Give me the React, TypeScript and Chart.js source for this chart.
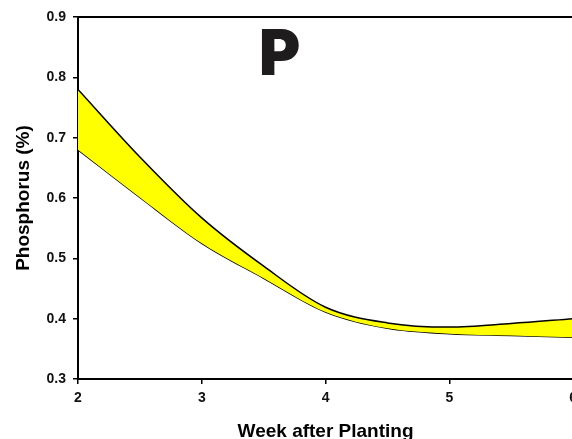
import React, { useEffect, useRef } from "react";
import { Chart, registerables } from "chart.js";

Chart.register(...registerables);

// ---- data ----
const weeks = [2, 2.5, 3, 3.5, 4, 4.5, 5, 5.5, 6];
const upperValues = [0.78, 0.668, 0.567, 0.487, 0.419, 0.393, 0.386, 0.392, 0.4];
const lowerValues = [0.68, 0.601, 0.525, 0.467, 0.411, 0.384, 0.375, 0.372, 0.369];
const xTickValues = [2, 3, 4, 5, 6];
const yTickValues = [0.3, 0.4, 0.5, 0.6, 0.7, 0.8, 0.9];
const xTitle = "Week after Planting";
const yTitle = "Phosphorus (%)";
const panelLabel = "P";
const panelLabelAt = { x: 3.63, y: 0.804 };

const FONT = '"Liberation Sans", Arial, sans-serif';

const panelLabelPlugin = {
  id: "panelLabel",
  afterDatasetsDraw(chart: any) {
    const { ctx, scales } = chart;
    const px = scales.x.getPixelForValue(panelLabelAt.x);
    const py = scales.y.getPixelForValue(panelLabelAt.y);
    ctx.save();
    ctx.font = '900 63px Inter, "Liberation Sans", Arial, sans-serif';
    ctx.fillStyle = "#1e1c1d";
    ctx.textAlign = "center";
    ctx.textBaseline = "alphabetic";
    ctx.fillText(panelLabel, px, py);
    ctx.restore();
  },
};

export default function App() {
  const canvasRef = useRef<HTMLCanvasElement | null>(null);

  useEffect(() => {
    if (!canvasRef.current) return;
    const chart = new Chart(canvasRef.current, {
      type: "line",
      data: {
        datasets: [
          {
            label: "upper",
            data: weeks.map((w, i) => ({ x: w, y: upperValues[i] })),
            borderColor: "#000",
            borderWidth: 1.5,
            backgroundColor: "#ffff00",
            fill: "+1",
            pointRadius: 0,
            cubicInterpolationMode: "monotone",
          },
          {
            label: "lower",
            data: weeks.map((w, i) => ({ x: w, y: lowerValues[i] })),
            borderColor: "#000",
            borderWidth: 1.5,
            backgroundColor: "#ffff00",
            fill: false,
            pointRadius: 0,
            cubicInterpolationMode: "monotone",
          },
        ],
      },
      options: {
        animation: false,
        responsive: false,
        layout: { padding: { top: 17, left: 0, right: 0, bottom: 0 } },
        plugins: {
          legend: { display: false },
          tooltip: { enabled: false },
        },
        scales: {
          x: {
            type: "linear",
            min: 2,
            max: 6,
            afterBuildTicks: (s: any) => {
              s.ticks = xTickValues.map((v) => ({ value: v }));
            },
            afterFit: (s: any) => {
              s.height = 60;
            },
            grid: {
              drawOnChartArea: false,
              drawTicks: true,
              tickLength: 5,
              color: "#000",
              lineWidth: 1.5,
            },
            border: { display: true, color: "#000", width: 2 },
            ticks: {
              font: { family: FONT, size: 14, weight: "bold" },
              color: "#111",
              padding: 6,
              maxRotation: 0,
              autoSkip: false,
            },
            title: {
              display: true,
              text: xTitle,
              color: "#000",
              font: { family: FONT, size: 19, weight: "bold", lineHeight: 0.8 },
              padding: 0,
            },
          },
          xTop: {
            type: "linear",
            position: "top",
            min: 2,
            max: 6,
            ticks: { display: false },
            grid: { display: false, drawTicks: false },
            border: { display: true, color: "#000", width: 2 },
          },
          y: {
            type: "linear",
            min: 0.3,
            max: 0.9,
            afterBuildTicks: (s: any) => {
              s.ticks = yTickValues.map((v) => ({ value: v }));
            },
            afterFit: (s: any) => {
              s.width = 78;
            },
            grid: {
              drawOnChartArea: false,
              drawTicks: true,
              tickLength: 5,
              color: "#000",
              lineWidth: 1.5,
            },
            border: { display: true, color: "#000", width: 2 },
            ticks: {
              font: { family: FONT, size: 14, weight: "bold" },
              color: "#111",
              padding: 7,
              callback: (v: any) => Number(v).toFixed(1),
            },
            title: {
              display: true,
              text: yTitle,
              color: "#000",
              font: { family: FONT, size: 19, weight: "bold" },
              padding: { top: 12, bottom: 0 },
            },
          },
        },
      },
      plugins: [panelLabelPlugin],
    } as any);
    return () => chart.destroy();
  }, []);

  return (
    <div
      style={{
        position: "fixed",
        left: 0,
        top: 0,
        width: 572,
        height: 439,
        overflow: "hidden",
        background: "#fff",
      }}
    >
      <canvas ref={canvasRef} width={583} height={439} style={{ display: "block" }} />
    </div>
  );
}
